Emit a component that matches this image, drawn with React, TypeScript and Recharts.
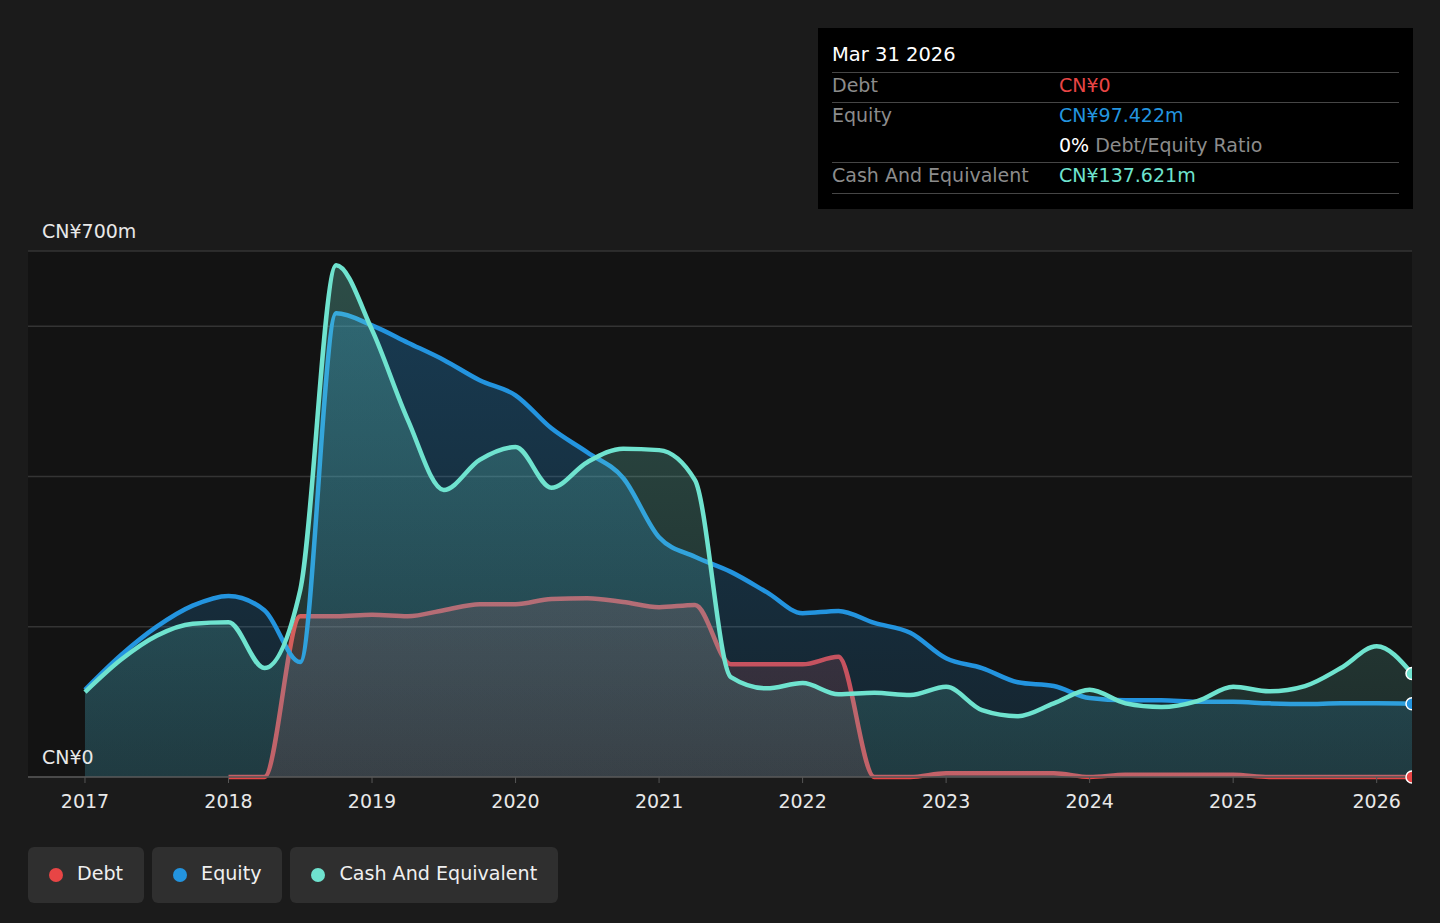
import React from "react";
import { ComposedChart, Area, XAxis, YAxis, CartesianGrid } from "recharts";

const quarters = [
  2017, 2017.25, 2017.5, 2017.75,
  2018, 2018.25, 2018.5, 2018.75,
  2019, 2019.25, 2019.5, 2019.75,
  2020, 2020.25, 2020.5, 2020.75,
  2021, 2021.25, 2021.5, 2021.75,
  2022, 2022.25, 2022.5, 2022.75,
  2023, 2023.25, 2023.5, 2023.75,
  2024, 2024.25, 2024.5, 2024.75,
  2025, 2025.25, 2025.5, 2025.75,
  2026, 2026.246,
];

const debt: (number | null)[] = [
  null, null, null, null,
  0, 0, 214, 214,
  216, 214, 222, 230,
  230, 237, 238, 233,
  226, 229, 150, 150,
  150, 160, 0, 0,
  5, 5, 5, 5,
  0, 3, 3, 3,
  3, 0, 0, 0,
  0, 0,
];

const equity = [
  116, 162, 200, 228,
  241, 222, 153, 617,
  601, 578, 555, 528,
  508, 464, 432, 398,
  319, 293, 273, 246,
  218, 221, 205, 192,
  158, 145, 126, 121,
  105, 102, 102, 100,
  100, 98, 97, 98,
  98, 97.422,
];

const cash = [
  113, 156, 188, 204,
  206, 145, 249, 681,
  595, 475, 382, 422,
  439, 385, 419, 437,
  435, 395, 133, 118,
  125, 110, 112, 109,
  120, 89, 81, 98,
  116, 98, 93, 101,
  120, 114, 121, 145,
  174, 137.621,
];

const yearTicks = [2017, 2018, 2019, 2020, 2021, 2022, 2023, 2024, 2025, 2026];
const valueTicks = [0, 200, 400, 600, 700];
const valueLabels: Record<number, string> = { 0: "CN¥0", 700: "CN¥700m" };
const xDomain = [2016.603, 2026.246];

const tooltipTitle = "Mar 31 2026";
const tooltipDebt = "CN¥0";
const tooltipEquity = "CN¥97.422m";
const tooltipRatio = "0%";
const tooltipCash = "CN¥137.621m";

const COLORS = { debt: "#e84545", equity: "#2394df", cash: "#6fe3cf" };
const legendItems = [
  { name: "Debt", color: COLORS.debt },
  { name: "Equity", color: COLORS.equity },
  { name: "Cash And Equivalent", color: COLORS.cash },
];

const data = quarters.map((q, i) => ({ q, debt: debt[i], equity: equity[i], cash: cash[i] }));

const FONT = "'DejaVu Sans', sans-serif";

const renderYTick = (props: any) => {
  const { y, payload, index } = props;
  const label = valueLabels[payload.value];
  if (!label) return <g key={`yt${index}`} />;
  return (
    <text key={`yt${index}`} x={42} y={y - 20} fill="#e8e8e8" fontSize={19} fontFamily={FONT} dominantBaseline="central" textAnchor="start">
      {label}
    </text>
  );
};

const renderXTick = (props: any) => {
  const { x, y, payload, index } = props;
  return (
    <text key={`xt${index}`} x={x} y={y + 16} fill="#e8e8e8" fontSize={19} fontFamily={FONT} textAnchor="middle" dominantBaseline="central">
      {payload.value}
    </text>
  );
};

const makeEndDot = (color: string) => (props: any) => {
  const { cx, cy, index } = props;
  if (index !== data.length - 1 || cx == null || cy == null) return <g key={`d${index}`} />;
  return <circle key={`d${index}`} cx={cx} cy={cy} r={6} fill={color} stroke="#ffffff" strokeWidth={1.5} />;
};

const rowLabel: React.CSSProperties = { position: "absolute", left: 14, color: "#8c8c8c", fontSize: 19 };
const rowValue: React.CSSProperties = { position: "absolute", left: 241, fontSize: 19 };
const sep = (top: number): React.CSSProperties => ({
  position: "absolute", left: 14, width: 567, top, height: 1.5, background: "#464646",
});

export default function App() {
  return (
    <div style={{ position: "absolute", left: 0, top: 0, width: 1440, height: 923, background: "#1b1b1b", fontFamily: FONT, overflow: "hidden" }}>
      <ComposedChart width={1440} height={923} data={data} margin={{ top: 251, right: 28, bottom: 116, left: 27 }}>
        <defs>
          <linearGradient id="gEq" x1="0" y1="0" x2="0" y2="1">
            <stop offset="0%" stopColor={COLORS.equity} stopOpacity={0.3} />
            <stop offset="100%" stopColor={COLORS.equity} stopOpacity={0.13} />
          </linearGradient>
          <linearGradient id="gCash" x1="0" y1="0" x2="0" y2="1">
            <stop offset="0%" stopColor={COLORS.cash} stopOpacity={0.28} />
            <stop offset="100%" stopColor={COLORS.cash} stopOpacity={0.12} />
          </linearGradient>
          <linearGradient id="gDebt" x1="0" y1="0" x2="0" y2="1">
            <stop offset="0%" stopColor={COLORS.debt} stopOpacity={0.2} />
            <stop offset="100%" stopColor={COLORS.debt} stopOpacity={0.15} />
          </linearGradient>
        </defs>
        <CartesianGrid vertical={false} stroke="#343434" strokeWidth={1.5} fill="#131313" fillOpacity={1} />
        <XAxis
          dataKey="q"
          type="number"
          domain={xDomain}
          ticks={yearTicks}
          allowDataOverflow
          height={30}
          tick={renderXTick}
          tickSize={6}
          tickLine={{ stroke: "#555555" }}
          axisLine={{ stroke: "#555555", strokeWidth: 1.5 }}
          interval={0}
        />
        <YAxis
          type="number"
          domain={[0, 700]}
          ticks={valueTicks}
          width={1}
          axisLine={false}
          tickLine={false}
          tick={renderYTick}
          interval={0}
        />
        <Area
          type="monotone"
          dataKey="debt"
          stroke={COLORS.debt}
          strokeWidth={4.5}
          fill="url(#gDebt)"
          fillOpacity={1}
          isAnimationActive={false}
          dot={makeEndDot(COLORS.debt)}
          activeDot={false}
        />
        <Area
          type="monotone"
          dataKey="equity"
          stroke={COLORS.equity}
          strokeWidth={4.5}
          fill="url(#gEq)"
          fillOpacity={1}
          isAnimationActive={false}
          dot={makeEndDot(COLORS.equity)}
          activeDot={false}
        />
        <Area
          type="monotone"
          dataKey="cash"
          stroke={COLORS.cash}
          strokeWidth={4.5}
          fill="url(#gCash)"
          fillOpacity={1}
          isAnimationActive={false}
          dot={makeEndDot(COLORS.cash)}
          activeDot={false}
        />
      </ComposedChart>

      <div style={{ position: "absolute", left: 818, top: 28, width: 595, height: 181, background: "#000000" }}>
        <div style={{ position: "absolute", left: 14, top: 15, color: "#ffffff", fontSize: 19.5 }}>{tooltipTitle}</div>
        <div style={sep(43.5)} />
        <div style={{ ...rowLabel, top: 46 }}>Debt</div>
        <div style={{ ...rowValue, top: 46, color: COLORS.debt }}>{tooltipDebt}</div>
        <div style={sep(73.5)} />
        <div style={{ ...rowLabel, top: 76 }}>Equity</div>
        <div style={{ ...rowValue, top: 76, color: COLORS.equity }}>{tooltipEquity}</div>
        <div style={{ ...rowValue, top: 106, color: "#8c8c8c" }}>
          <span style={{ color: "#ffffff" }}>{tooltipRatio}</span> Debt/Equity Ratio
        </div>
        <div style={sep(133.5)} />
        <div style={{ ...rowLabel, top: 136 }}>Cash And Equivalent</div>
        <div style={{ ...rowValue, top: 136, color: COLORS.cash }}>{tooltipCash}</div>
        <div style={sep(164.5)} />
      </div>

      <div style={{ position: "absolute", left: 28, top: 847, display: "flex", gap: 8 }}>
        {legendItems.map((it) => (
          <div
            key={it.name}
            style={{
              height: 56, boxSizing: "border-box", padding: "0 21px 4px 21px", background: "#2f2f2f",
              borderRadius: 6, display: "flex", alignItems: "center", color: "#f0f0f0", fontSize: 19.1,
            }}
          >
            <span style={{ width: 14, height: 14, borderRadius: "50%", background: it.color, display: "inline-block", marginRight: 14, position: "relative", top: 2 }} />
            {it.name}
          </div>
        ))}
      </div>
    </div>
  );
}
